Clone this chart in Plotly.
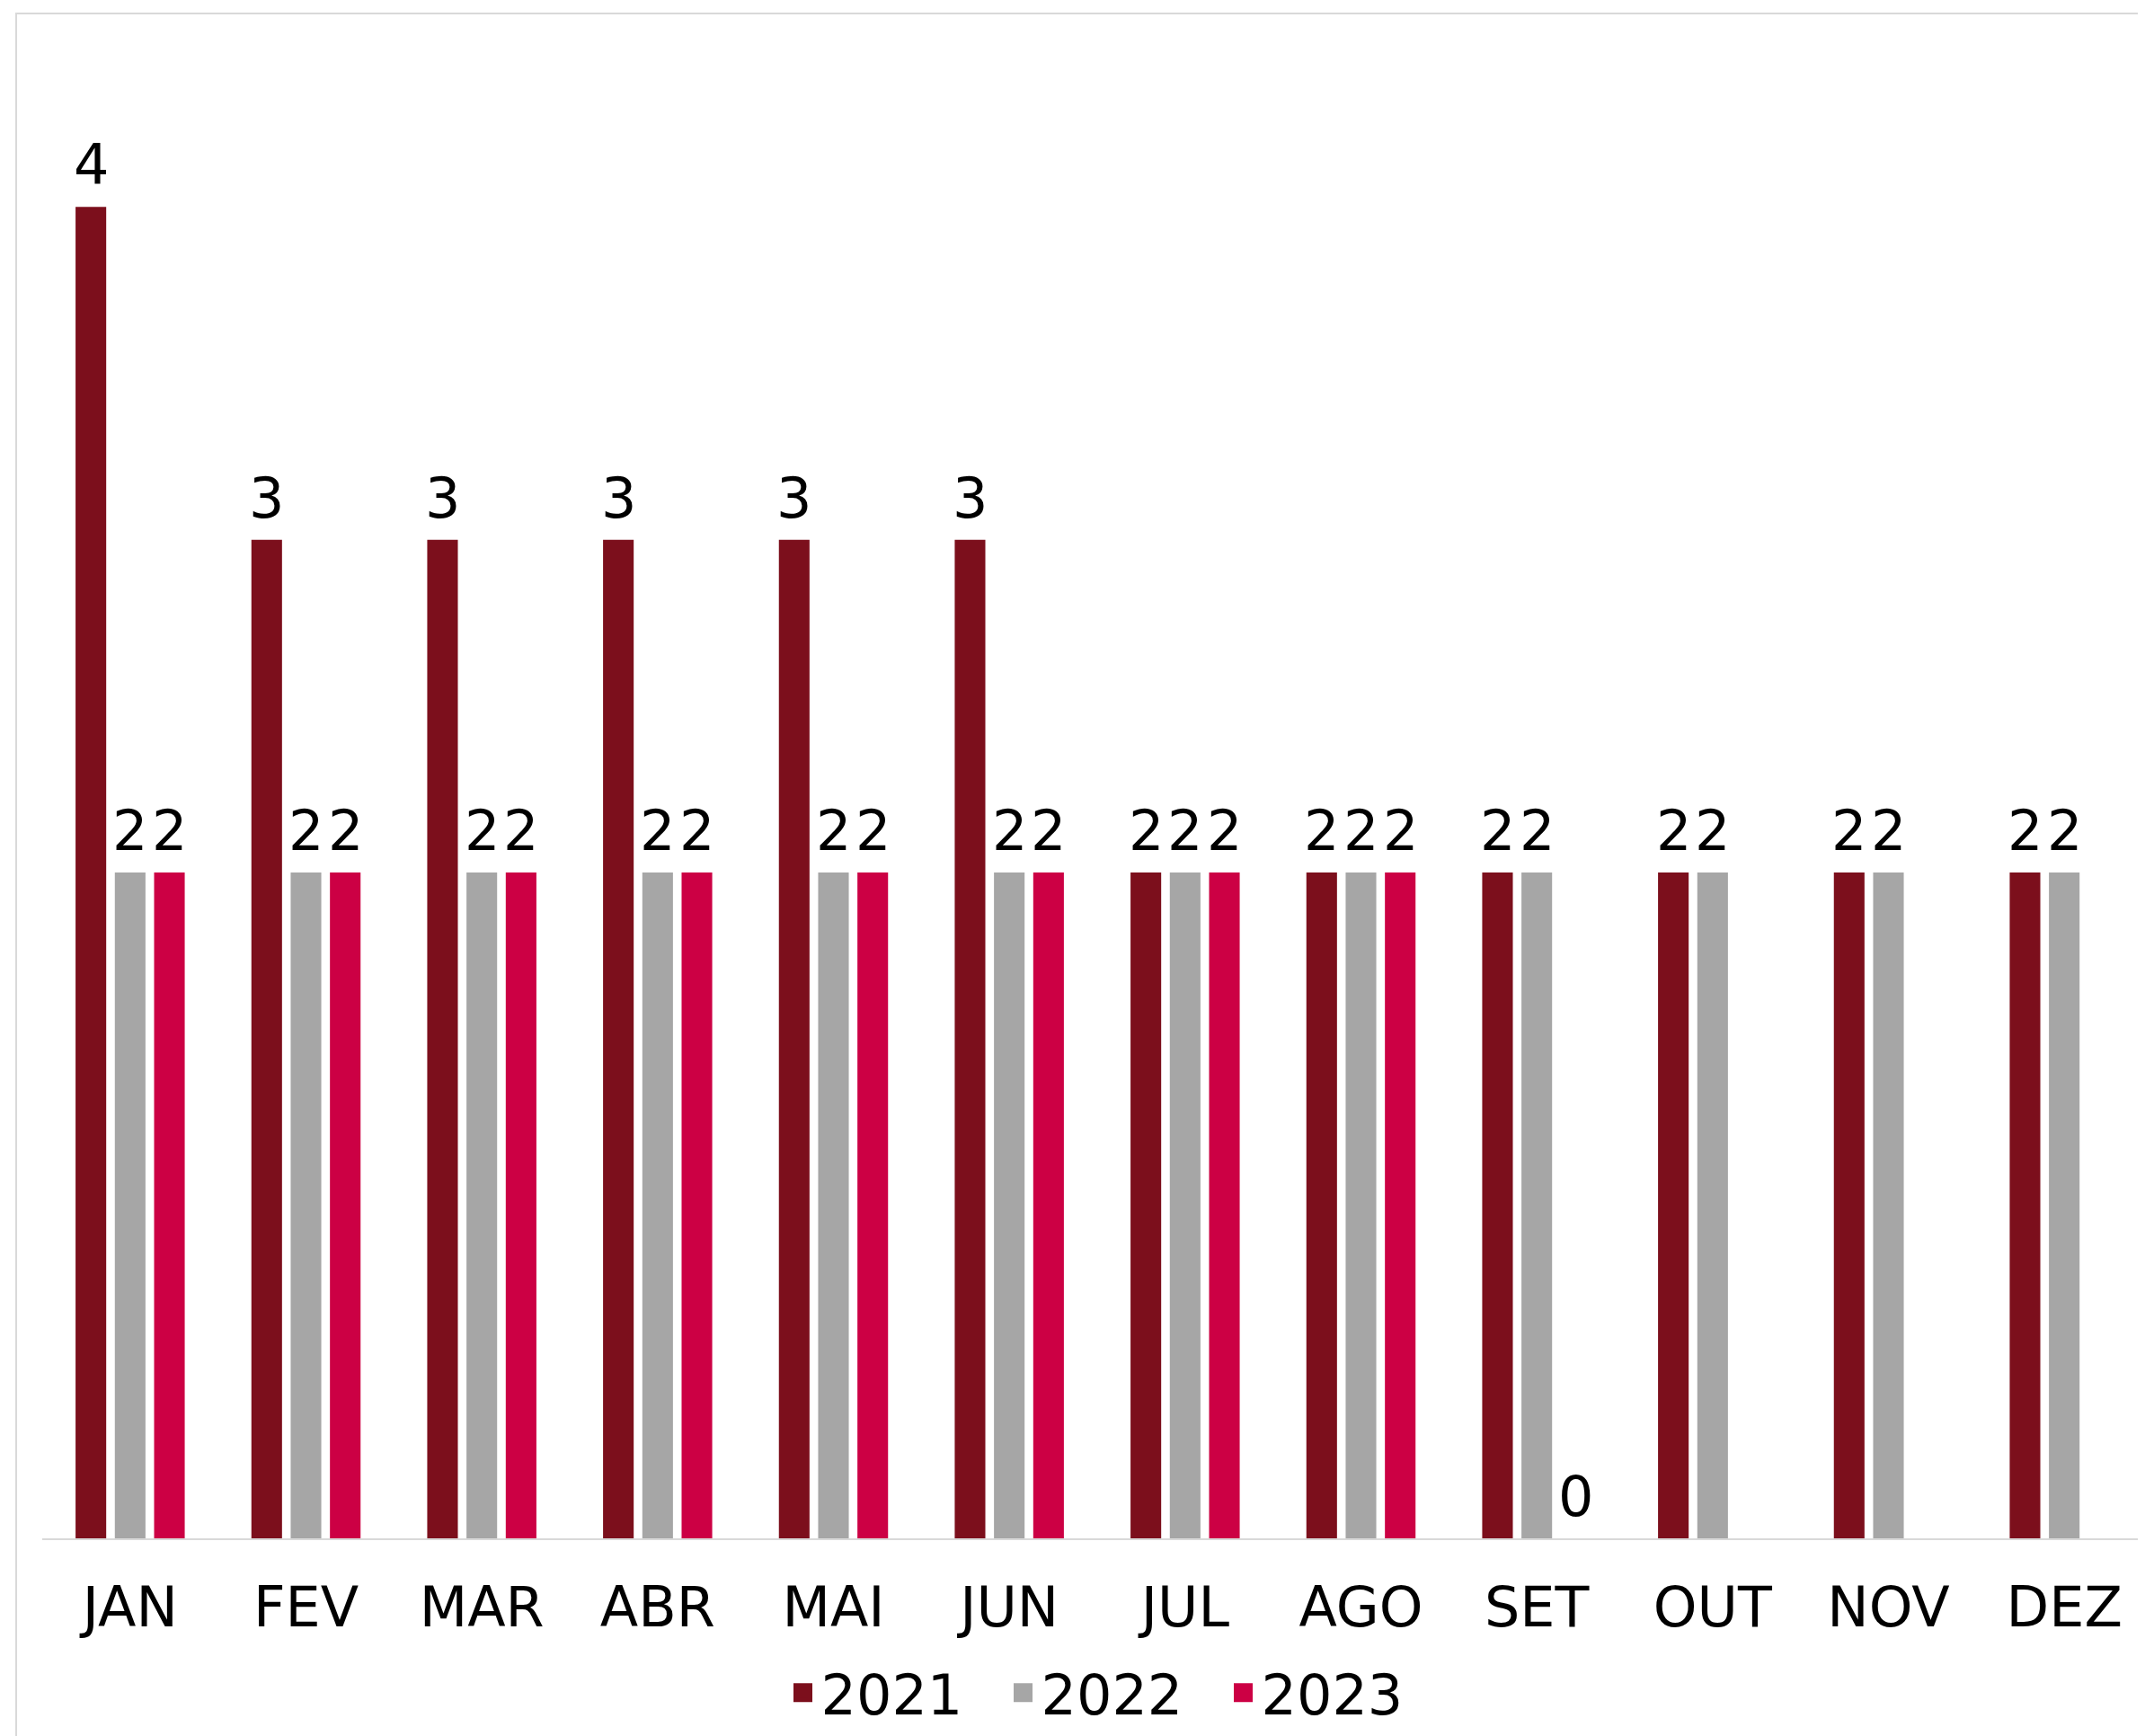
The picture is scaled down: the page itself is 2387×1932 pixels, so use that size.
import plotly.graph_objects as go

months = ["JAN", "FEV", "MAR", "ABR", "MAI", "JUN", "JUL", "AGO", "SET", "OUT", "NOV", "DEZ"]
series_names = ["2021", "2022", "2023"]
v2021 = [4, 3, 3, 3, 3, 3, 2, 2, 2, 2, 2, 2]
v2022 = [2, 2, 2, 2, 2, 2, 2, 2, 2, 2, 2, 2]
v2023 = [2, 2, 2, 2, 2, 2, 2, 2, 0, None, None, None]
colors = ["#7C0F1C", "#A6A6A6", "#CC0044"]

OFF = 8  # default page body margin in the browser
W, H = 2387, 1932
L, R, T, B = 47 - OFF, 0, 45 - OFF, 220 + OFF
FONT = "DejaVu Sans"
BARGAP, GROUPGAP = 0.33, 0.22

pw = W - L - R
ph = H - T - B
ncat = len(months)
slot_px = pw / ncat * (1 - BARGAP) / 3

fig = go.Figure()
all_vals = [v2021, v2022, v2023]
for name, vals, col in zip(series_names, all_vals, colors):
    fig.add_trace(go.Bar(
        x=months, y=vals, name=name, showlegend=False,
        marker=dict(color=col, line=dict(width=0)),
        cliponaxis=False,
    ))
# legend entries with larger square swatches
for name, col in zip(series_names, colors):
    fig.add_trace(go.Scatter(
        x=[None], y=[None], mode="markers", name=name, showlegend=True,
        marker=dict(symbol="square", size=16, color=col, line=dict(color=col, width=5)),
    ))

# value labels above bars
annotations = []
for si, vals in enumerate(all_vals):
    for m, v in zip(months, vals):
        if v is None:
            continue
        annotations.append(dict(
            x=m, y=v, xref="x", yref="y", text=str(v), showarrow=False,
            xanchor="center", yanchor="bottom", xshift=(si - 1) * slot_px, yshift=8,
            font=dict(family=FONT, size=62, color="#000000"),
        ))

fig.update_layout(
    width=W, height=H, autosize=False,
    margin=dict(l=L, r=R, t=T, b=B, autoexpand=False),
    paper_bgcolor="white", plot_bgcolor="white",
    barmode="group", bargap=BARGAP, bargroupgap=GROUPGAP,
    font=dict(family=FONT, size=62, color="#000000"),
    showlegend=True,
    legend=dict(orientation="h", x=0.5 + 20 / pw, xanchor="center", y=-(1884 - 1712) / ph,
                yanchor="middle", font=dict(family=FONT, size=62, color="#000000"),
                itemwidth=30, tracegroupgap=0, traceorder="normal", itemsizing="trace",
                entrywidth=200, entrywidthmode="pixels"),
    xaxis=dict(showline=True, linecolor="#D9D9D9", linewidth=2, showgrid=False,
               ticks="", tickfont=dict(family=FONT, size=62, color="#000000"),
               ticklabelstandoff=22, fixedrange=True, automargin=False),
    yaxis=dict(range=[0, 4.5], showticklabels=False, showgrid=False, zeroline=False,
               showline=False, fixedrange=True, automargin=False),
    annotations=annotations,
    shapes=[dict(type="rect", xref="paper", yref="paper",
                 x0=(18 - OFF - L) / pw, x1=(W + 10 - L) / pw,
                 y0=-(H + 10 - 1712) / ph, y1=(1712 - 15) / ph,
                 line=dict(color="#D9D9D9", width=2), fillcolor="rgba(0,0,0,0)", layer="below")],
)

fig.write_html("out.html")
